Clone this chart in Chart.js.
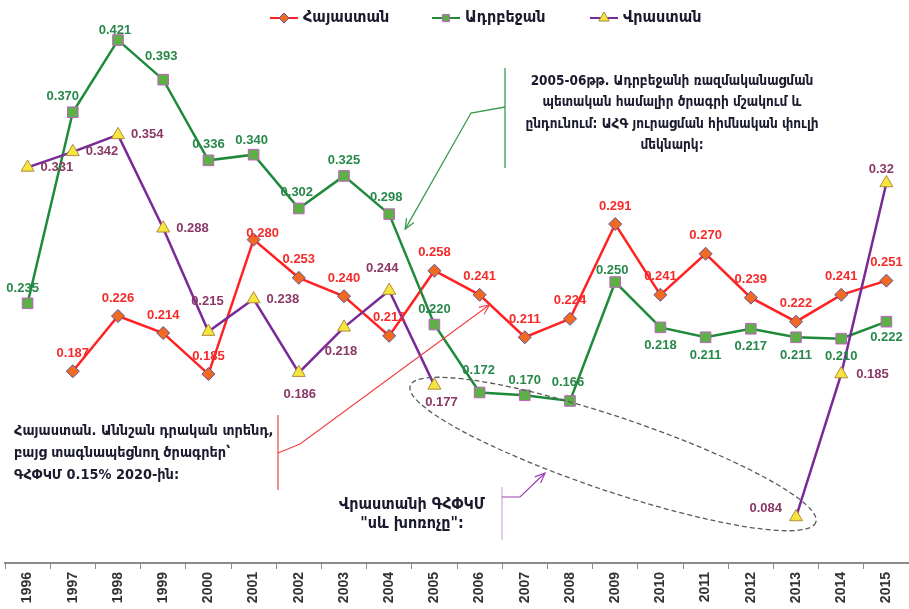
<!DOCTYPE html>
<html>
<head>
<meta charset="utf-8">
<script src="https://cdn.jsdelivr.net/npm/chart.js@4/dist/chart.umd.min.js"></script>
<style>
html, body { margin: 0; padding: 0; background: #fff; overflow: hidden; }
</style>
</head>
<body>
<canvas id="chart" width="909" height="609"></canvas>
<script>
// data
const years = ['1996', '1997', '1998', '1999', '2000', '2001', '2002', '2003', '2004', '2005',
               '2006', '2007', '2008', '2009', '2010', '2011', '2012', '2013', '2014', '2015'];
const armenia = [null, 0.187, 0.226, 0.214, 0.185, 0.280, 0.253, 0.240, 0.212, 0.258,
                 0.241, 0.211, 0.224, 0.291, 0.241, 0.270, 0.239, 0.222, 0.241, 0.251];
const azerbaijan = [0.235, 0.370, 0.421, 0.393, 0.336, 0.340, 0.302, 0.325, 0.298, 0.220,
                    0.172, 0.170, 0.166, 0.250, 0.218, 0.211, 0.217, 0.211, 0.210, 0.222];
const georgia = [0.331, 0.342, 0.354, 0.288, 0.215, 0.238, 0.186, 0.218, 0.244, 0.177,
                 null, null, null, null, null, null, null, 0.084, 0.185, 0.32];
const seriesNames = ['Հայաստան', 'Ադրբեջան', 'Վրաստան'];

const armFont = '"DejaVu Sans Condensed", "DejaVu Sans", sans-serif';

// label placement per point: [dx, dy, align]
const up = [0, -18, 'center'];
const down = [0, 18, 'center'];
const right = [13, 0, 'left'];
const labelPos = [
  [null, up, up, up, up, [9, -6, 'center'], up, up, up, up, up, up, up, up, up, up, up, up, up, up],
  [[-5, -15, 'center'], [-10, -16, 'center'], [-3, -10, 'center'], [-2, -23, 'center'], [0, -16, 'center'],
   [-2, -14, 'center'], [-2, -16, 'center'], [0, -15, 'center'], [-3, -17, 'center'], [0, -15, 'center'],
   [-1, -22, 'center'], [0, -15, 'center'], [-2, -19, 'center'], [-3, -12, 'center'], down,
   down, down, down, down, [0, 16, 'center']],
  [right, right, right, right, [-1, -30, 'center'], right, [1, 22, 'center'], [-3, 24, 'center'],
   [-7, -22, 'center'], [7, 17, 'center'], null, null, null, null, null, null, null,
   [-14, -9, 'right'], [15, 0, 'left'], [-5, -14, 'center']]
];
const labelColors = ['#f52a2a', '#27884a', '#8a3866'];
const labelDigits = [3, 3, 3];

function drawMarker(ctx, style, x, y, r, fill, stroke) {
  ctx.save();
  ctx.beginPath();
  if (style === 'rectRot') {
    ctx.moveTo(x, y - r); ctx.lineTo(x + r, y); ctx.lineTo(x, y + r); ctx.lineTo(x - r, y);
  } else if (style === 'rect') {
    const s = r * Math.SQRT1_2;
    ctx.rect(x - s, y - s, 2 * s, 2 * s);
  } else {
    ctx.moveTo(x, y - r); ctx.lineTo(x + r * 0.866, y + r / 2); ctx.lineTo(x - r * 0.866, y + r / 2);
  }
  ctx.closePath();
  ctx.fillStyle = fill; ctx.fill();
  ctx.strokeStyle = stroke; ctx.lineWidth = 1; ctx.stroke();
  ctx.restore();
}

function arrow(ctx, pts, color, width) {
  ctx.save();
  ctx.strokeStyle = color; ctx.lineWidth = width;
  ctx.beginPath();
  ctx.moveTo(pts[0][0], pts[0][1]);
  for (let i = 1; i < pts.length; i++) ctx.lineTo(pts[i][0], pts[i][1]);
  ctx.stroke();
  const [x1, y1] = pts[pts.length - 2], [x2, y2] = pts[pts.length - 1];
  const a = Math.atan2(y2 - y1, x2 - x1);
  ctx.beginPath();
  ctx.moveTo(x2 - 11 * Math.cos(a - 0.4), y2 - 11 * Math.sin(a - 0.4));
  ctx.lineTo(x2, y2);
  ctx.lineTo(x2 - 11 * Math.cos(a + 0.4), y2 - 11 * Math.sin(a + 0.4));
  ctx.stroke();
  ctx.restore();
}

function line(ctx, x1, y1, x2, y2, color, width) {
  ctx.save();
  ctx.strokeStyle = color; ctx.lineWidth = width;
  ctx.beginPath(); ctx.moveTo(x1, y1); ctx.lineTo(x2, y2); ctx.stroke();
  ctx.restore();
}

function textLines(ctx, lines, x, y0, step, align, font) {
  ctx.save();
  ctx.font = font;
  ctx.fillStyle = '#1b1b2f';
  ctx.textAlign = align;
  ctx.textBaseline = 'middle';
  lines.forEach((t, i) => ctx.fillText(t, x, y0 + i * step));
  ctx.restore();
}

const extras = {
  id: 'extras',
  afterDatasetsDraw(chart) {
    const ctx = chart.ctx;
    // value labels
    ctx.save();
    ctx.font = 'bold 13px "Liberation Sans", Arial, sans-serif';
    ctx.textBaseline = 'middle';
    chart.data.datasets.forEach((ds, di) => {
      const meta = chart.getDatasetMeta(di);
      ds.data.forEach((v, i) => {
        if (v === null || !labelPos[di][i]) return;
        const p = meta.data[i];
        const [dx, dy, al] = labelPos[di][i];
        ctx.fillStyle = labelColors[di];
        ctx.textAlign = al;
        const txt = (di === 2 && i === 19) ? String(v) : v.toFixed(labelDigits[di]);
        ctx.fillText(txt, p.x + dx, p.y + dy);
      });
    });
    ctx.restore();
  },
  afterDraw(chart) {
    const ctx = chart.ctx;

    // legend
    const legendX = [270, 432, 590];
    chart.data.datasets.forEach((ds, i) => {
      const x0 = legendX[i], y = 18;
      line(ctx, x0, y, x0 + 28, y, ds.borderColor, 2);
      drawMarker(ctx, ds.pointStyle, x0 + 14, y, ds.pointStyle === 'triangle' ? 6 : 5,
                 ds.pointBackgroundColor, ds.pointBorderColor);
      textLines(ctx, [ds.label], x0 + 33, y, 0, 'left', 'bold 16px ' + armFont);
    });

    // Azerbaijan note
    textLines(ctx, ['2005-06թթ. Ադրբեջանի ռազմականացման',
                    'պետական համալիր ծրագրի մշակում և',
                    'ընդունում: ԱՀԳ յուրացման հիմնական փուլի',
                    'մեկնարկ:'], 672, 81, 21.5, 'center', 'bold 13.5px ' + armFont);
    line(ctx, 505, 68, 505, 168, '#3c9a4c', 1.3);
    const az = chart.getDatasetMeta(1).data[8];
    arrow(ctx, [[505, 107], [471, 113], [az.x + 16, az.y + 15]], '#3c9a4c', 1.3);

    // Armenia note
    textLines(ctx, ['Հայաստան. Աննշան դրական տրենդ,',
                    'բայց տագնապեցնող ծրագրեր՝',
                    'ԳՀՓԿՄ 0.15% 2020-ին:'], 14, 431, 22, 'left', 'bold 14.4px ' + armFont);
    line(ctx, 278, 415, 278, 490, '#f04040', 1.2);
    const am = chart.getDatasetMeta(0).data[10];
    arrow(ctx, [[278, 453], [300, 444], [am.x + 10, am.y + 10]], '#f04040', 1.1);

    // Georgia note
    textLines(ctx, ['Վրաստանի ԳՀՓԿՄ', '"սև խոռոչը":'], 412, 505, 19, 'center', 'bold 16px ' + armFont);
    line(ctx, 502, 487, 502, 540, '#d2a8dc', 1.2);
    arrow(ctx, [[502, 497], [520, 497], [545, 473]], '#9a40b0', 1.2);

    // dashed ellipse round the Georgian gap
    ctx.save();
    ctx.setLineDash([5, 3]);
    ctx.strokeStyle = '#5a5a5a';
    ctx.lineWidth = 1.3;
    ctx.beginPath();
    ctx.ellipse(613, 454, 214, 37, 18.6 * Math.PI / 180, 0, Math.PI * 2);
    ctx.stroke();
    ctx.restore();
  }
};

const ctx = document.getElementById('chart').getContext('2d');
new Chart(ctx, {
  type: 'line',
  data: {
    labels: years,
    datasets: [{
      label: seriesNames[0],
      data: armenia,
      borderColor: '#ff2222',
      borderWidth: 2.5,
      pointStyle: 'rectRot',
      pointRadius: 6.5,
      pointBackgroundColor: '#f26a21',
      pointBorderColor: '#55559a',
      pointBorderWidth: 1,
      order: 3
    }, {
      label: seriesNames[1],
      data: azerbaijan,
      borderColor: '#1e8a3a',
      borderWidth: 2.5,
      pointStyle: 'rect',
      pointRadius: 7.5,
      pointBackgroundColor: '#5cb046',
      pointBorderColor: '#c45fc4',
      pointBorderWidth: 1,
      order: 2
    }, {
      label: seriesNames[2],
      data: georgia,
      borderColor: '#7a2a96',
      borderWidth: 2.5,
      pointStyle: 'triangle',
      pointRadius: 7.5,
      pointBackgroundColor: '#f5e63c',
      pointBorderColor: '#b08a40',
      pointBorderWidth: 1,
      order: 1
    }]
  },
  options: {
    responsive: false,
    animation: false,
    spanGaps: false,
    clip: false,
    layout: { autoPadding: false, padding: { left: 5, right: 0, top: 0, bottom: 0 } },
    plugins: {
      legend: { display: false },
      tooltip: { enabled: false }
    },
    scales: {
      x: {
        offset: true,
        grid: { display: true, drawOnChartArea: false, drawTicks: true, tickLength: 6, color: '#8a8a8a', offset: true },
        border: { display: true, color: '#8a8a8a', width: 2 },
        ticks: {
          minRotation: 90, maxRotation: 90, autoSkip: false, padding: 3,
          color: '#333',
          font: { family: '"Liberation Sans", Arial, sans-serif', weight: 'bold', size: 14 }
        },
        afterFit(scale) { scale.height = 46; }
      },
      y: {
        display: false,
        min: 0.0515,
        max: 0.4493
      }
    }
  },
  plugins: [extras]
});
</script>
</body>
</html>
